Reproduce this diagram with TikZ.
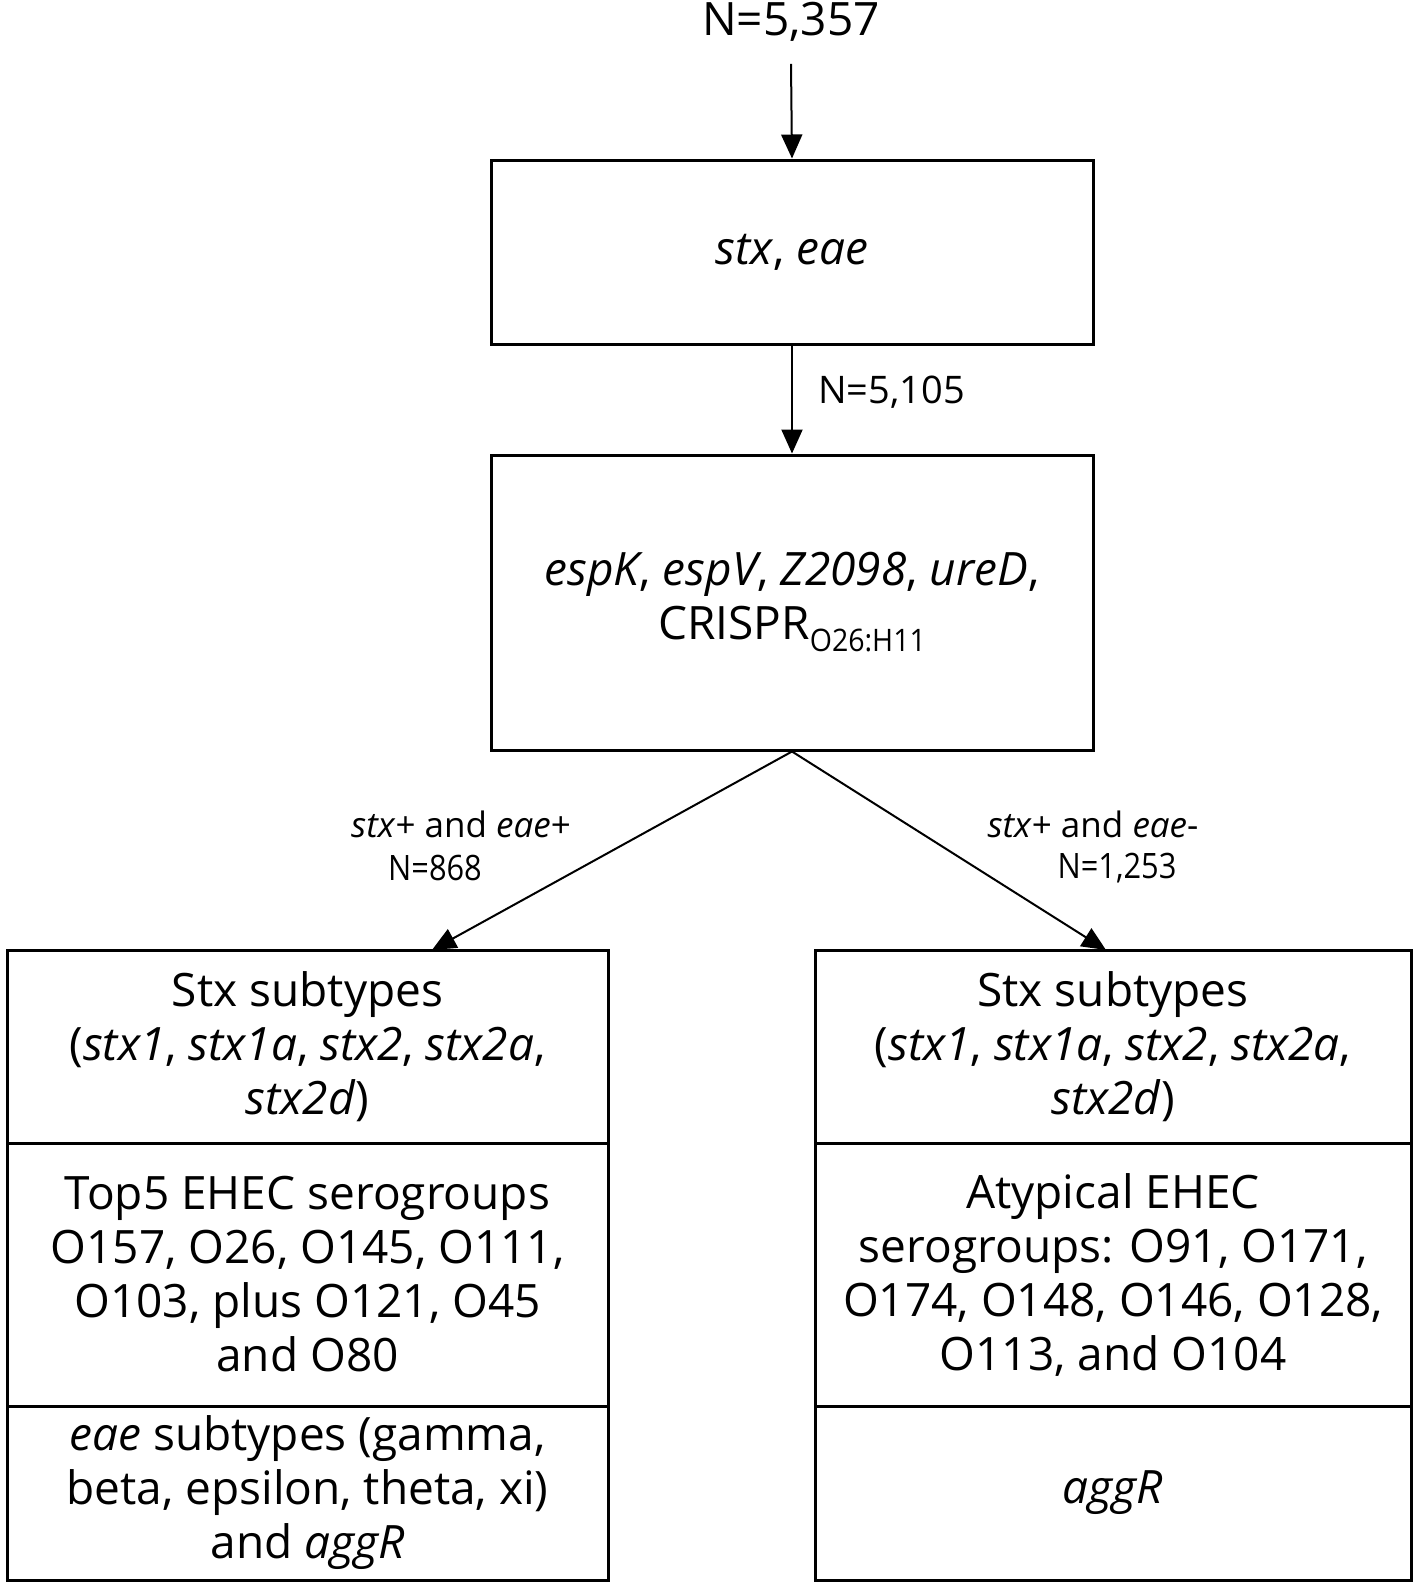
\documentclass[tikz,border=0pt]{standalone}
\usepackage{fontspec}
\setmainfont{Open Sans}
\newfontfamily\condfont[FakeStretch=0.88]{Open Sans}
\newfontfamily\subfont[FakeStretch=0.92]{Open Sans}
\usetikzlibrary{arrows.meta}
\begin{document}
\begin{tikzpicture}[x=1pt,y=-1pt,
  box/.style={draw, line width=3pt, inner sep=0pt},
  sec/.style={draw, line width=3pt, inner sep=0pt, align=center, font=\fontsize{46}{54}\selectfont},
  lbl/.style={inner sep=0pt, align=center, font=\fontsize{35}{42}\selectfont},
  lbln/.style={inner sep=0pt, align=center, font=\condfont\fontsize{35}{42}\selectfont},
  arr/.style={line width=2pt, -{Triangle[length=24pt,width=21pt]}}
]
\useasboundingbox (0,0) rectangle (1418,1583);
\fill[white] (0,0) rectangle (1418,1583);

\node[inner sep=0pt, font=\fontsize{46}{54}\selectfont] (n0) at (791,22) {N=5,357};

\node[sec, minimum width=602pt, minimum height=184pt] (b1) at (792,252) {\itshape stx\upshape, \itshape eae};
\node[sec, minimum width=602pt, minimum height=295pt] (b2) at (792,602.5)
  {\itshape espK\upshape, \itshape espV\upshape, \itshape Z2098\upshape, \itshape ureD\upshape,\\
   CRISPR\raisebox{-0.26em}{\subfont\fontsize{31}{31}\selectfont O26:H11}};

% left column
\node[sec, minimum width=601pt, minimum height=193pt] (l1) at (307.5,1046.5)
  {Stx subtypes\\(\textit{stx1}, \textit{stx1a}, \textit{stx2}, \textit{stx2a},\\\textit{stx2d})};
\node[sec, minimum width=601pt, minimum height=263pt] (l2) at (307.5,1274.5)
  {Top5 EHEC serogroups\\O157, O26, O145, O111,\\O103, plus O121, O45\\and O80};
\node[sec, minimum width=601pt, minimum height=174pt] (l3) at (307.5,1493)
  {\textit{eae} subtypes (gamma,\\beta, epsilon, theta, xi)\\and \textit{aggR}};

% right column
\node[sec, minimum width=596pt, minimum height=193pt] (r1) at (1113,1046.5)
  {Stx subtypes\\(\textit{stx1}, \textit{stx1a}, \textit{stx2}, \textit{stx2a},\\\textit{stx2d})};
\node[sec, minimum width=596pt, minimum height=263pt] (r2) at (1113,1274.5)
  {Atypical EHEC\\serogroups: O91, O171,\\O174, O148, O146, O128,\\O113, and O104};
\node[sec, minimum width=596pt, minimum height=174pt] (r3) at (1113,1493)
  {\textit{aggR}};

\coordinate (tl) at (432,950);
\coordinate (tr) at (1106,950);

\draw[arr] ([yshift=-22pt]n0.south) -- (b1.north);
\draw[arr] (b1.south) -- (b2.north);
\node[inner sep=0pt, anchor=west, font=\fontsize{38}{44}\selectfont] (lab0) at (818,392) {N=5,105};
\draw[arr] (b2.south) -- (tl);
\draw[arr] (b2.south) -- (tr);

\node[lbl] (la1) at (461,824) {\textit{stx}+ and \textit{eae}+};
\node[lbln] (la2) at (435,868) {N=868};
\node[lbl] (ra1) at (1093,824) {\textit{stx}+ and \textit{eae}-};
\node[lbln] (ra2) at (1117,868) {N=1,253};
\end{tikzpicture}
\end{document}
